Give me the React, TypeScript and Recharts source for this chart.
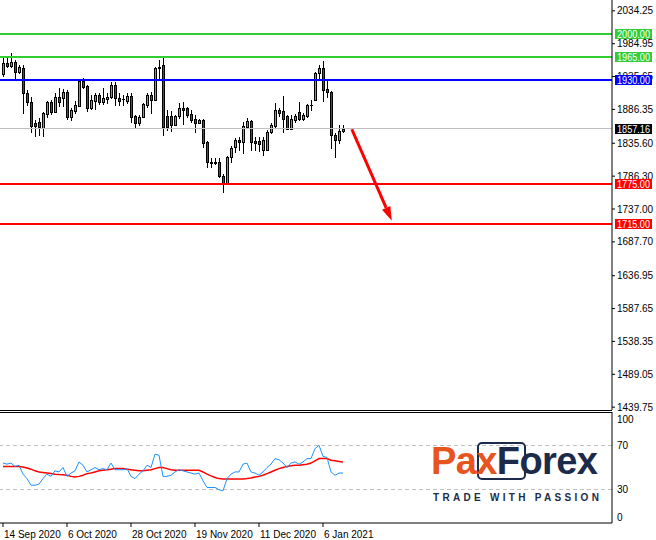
import React from "react";
import { ComposedChart, Bar, Line, XAxis, YAxis, ReferenceLine } from "recharts";

// daily candles, 14 Sep 2020 .. 13 Jan 2021
const opens = [
  1939.0, 1956.6, 1952.1, 1957.1, 1942.1, 1948.1, 1910.6, 1898.1, 1865.6, 1867.1,
  1858.1, 1879.6, 1897.1, 1883.1, 1904.6, 1903.1, 1912.1, 1875.6, 1884.6, 1892.1,
  1929.6, 1921.6, 1889.1, 1899.6, 1908.1, 1897.1, 1902.1, 1904.6, 1923.1, 1903.1,
  1902.1, 1899.6, 1906.6, 1876.6, 1865.6, 1875.6, 1893.1, 1908.1, 1900.6, 1950.6,
  1953.1, 1876.6, 1876.6, 1863.1, 1876.6, 1888.1, 1888.1, 1879.6, 1872.1, 1865.6,
  1870.6, 1837.1, 1807.1, 1806.6, 1808.1, 1786.6, 1775.6, 1814.6, 1829.6, 1840.6,
  1837.1, 1860.6, 1869.1, 1839.1, 1839.1, 1825.6, 1825.6, 1852.1, 1862.1, 1885.6,
  1884.6, 1876.6, 1857.1, 1870.6, 1882.1, 1872.1, 1877.1, 1893.1, 1900.6, 1940.6,
  1948.1, 1916.6, 1912.1, 1848.1, 1840.6, 1854.1,
];
const highs = [
  1963.1, 1963.1, 1971.6, 1960.6, 1953.1, 1953.1, 1915.6, 1905.6, 1870.6, 1873.1,
  1883.1, 1899.1, 1900.6, 1910.6, 1918.1, 1917.1, 1915.6, 1889.1, 1899.1, 1932.1,
  1933.1, 1923.1, 1908.1, 1910.6, 1911.6, 1919.1, 1910.6, 1928.1, 1928.1, 1910.6,
  1908.1, 1910.6, 1910.6, 1878.1, 1878.1, 1895.6, 1910.6, 1913.1, 1950.6, 1960.6,
  1963.1, 1885.6, 1884.1, 1878.1, 1895.6, 1898.1, 1890.6, 1885.6, 1878.1, 1871.6,
  1871.6, 1839.1, 1813.1, 1813.1, 1813.1, 1789.1, 1816.6, 1831.6, 1844.1, 1845.6,
  1868.1, 1873.1, 1870.6, 1845.6, 1845.6, 1845.6, 1855.6, 1865.6, 1895.6, 1889.1,
  1906.6, 1878.1, 1878.1, 1879.6, 1898.1, 1880.6, 1894.1, 1900.6, 1942.1, 1953.1,
  1959.1, 1931.6, 1914.1, 1850.6, 1863.1, 1863.1,
];
const lows = [
  1936.6, 1950.6, 1950.6, 1930.6, 1940.6, 1880.6, 1893.1, 1853.1, 1847.1, 1848.1,
  1847.1, 1874.6, 1879.6, 1883.1, 1892.1, 1892.1, 1872.1, 1870.6, 1880.6, 1892.1,
  1918.1, 1884.6, 1887.1, 1887.1, 1894.6, 1894.6, 1895.6, 1903.1, 1893.1, 1893.1,
  1893.1, 1895.6, 1867.1, 1859.6, 1863.1, 1874.6, 1890.6, 1880.6, 1900.6, 1933.1,
  1848.1, 1855.6, 1854.6, 1863.1, 1873.1, 1864.6, 1875.6, 1868.1, 1852.1, 1865.6,
  1829.6, 1799.6, 1800.1, 1804.6, 1785.6, 1763.1, 1775.6, 1807.1, 1823.1, 1825.6,
  1820.6, 1858.1, 1825.6, 1825.6, 1824.6, 1818.1, 1825.6, 1850.6, 1860.6, 1876.6,
  1853.1, 1856.6, 1856.6, 1868.1, 1870.6, 1870.6, 1875.6, 1885.6, 1900.6, 1933.1,
  1899.6, 1904.6, 1828.1, 1815.6, 1835.6, 1853.1,
];
const closes = [
  1955.6, 1952.1, 1957.1, 1942.1, 1949.6, 1910.6, 1898.1, 1862.1, 1862.1, 1860.6,
  1880.6, 1897.1, 1883.1, 1904.6, 1897.1, 1912.1, 1875.6, 1885.6, 1893.1, 1929.6,
  1920.6, 1889.1, 1900.6, 1908.1, 1897.1, 1903.1, 1904.6, 1923.1, 1903.1, 1899.6,
  1901.6, 1906.6, 1875.6, 1865.6, 1875.6, 1894.6, 1908.1, 1900.6, 1948.1, 1948.1,
  1860.6, 1860.6, 1863.1, 1876.6, 1888.1, 1885.6, 1878.1, 1870.6, 1865.6, 1870.6,
  1835.6, 1807.1, 1806.6, 1807.1, 1787.1, 1775.6, 1815.6, 1829.1, 1840.6, 1837.1,
  1861.6, 1869.1, 1838.1, 1835.6, 1835.1, 1840.6, 1853.1, 1863.1, 1885.6, 1880.6,
  1872.1, 1857.1, 1872.1, 1877.1, 1872.1, 1877.6, 1893.1, 1893.6, 1940.6, 1948.1,
  1915.6, 1912.1, 1848.1, 1840.6, 1854.6, 1857.16,
];

// oscillator (blue) and its moving average (red)
const osc = [
  54, 53, 54, 51, 52, 44, 40, 34, 34, 35,
  40, 44, 42, 47, 46, 50, 42, 45, 47, 55,
  52, 46, 48, 50, 48, 49, 48, 54, 48, 48,
  48, 49, 42, 40, 44, 47, 52, 50, 62, 61,
  42, 42, 43, 46, 48, 47, 46, 45, 44, 45,
  38, 32, 32, 32, 30, 29, 40, 44, 46, 46,
  53, 54, 46, 45, 43, 46, 50, 53, 58, 57,
  54, 50, 54, 55, 53, 55, 58, 58, 67, 70,
  60, 59, 46, 43, 45, 45,
];
const oscMa = [
  51, 51, 51, 51, 51, 50.5, 49.5, 48.5, 47, 46,
  45.5, 45, 44.5, 44, 43.6, 43.5, 43, 42, 41.5, 42,
  43, 44.5, 45, 46, 47, 47.5, 48, 48.5, 49, 49,
  49, 48.5, 48, 47.5, 47, 47, 47.5, 48, 49, 50,
  50, 49, 48, 47.5, 47.5, 47.5, 47.5, 47.5, 47.5, 47.5,
  46, 44, 42.5, 41, 40, 39.7, 39.7, 39.7, 39.7, 39.7,
  39.7, 40, 40.5, 41.5, 42, 43, 44.5, 46, 47.5, 49,
  50, 51, 51.5, 52, 52, 52.5, 53, 54, 56, 58,
  58, 58, 56.5, 56, 55.5, 55,
];

const dateTicks = [0, 16, 32, 48, 64, 80];
const dateLabels = ["14 Sep 2020", "6 Oct 2020", "28 Oct 2020", "19 Nov 2020", "11 Dec 2020", "6 Jan 2021"];
const priceTicks = [2034.25, 1984.95, 1935.65, 1886.35, 1835.6, 1786.3, 1737.0, 1687.7, 1636.95, 1587.65, 1538.35, 1489.05, 1439.75];
const oscTicks = [0, 30, 70, 100];

const levels = [
  { value: 2000, color: "#32cd32", width: 2, tag: "#32cd32" },
  { value: 1965, color: "#32cd32", width: 2, tag: "#32cd32" },
  { value: 1930, color: "#0000ff", width: 2, tag: "#0000ff" },
  { value: 1857.16, color: "#c0c0c0", width: 1, tag: "#000000" },
  { value: 1775, color: "#ff0000", width: 2, tag: "#ff0000" },
  { value: 1715, color: "#ff0000", width: 2, tag: "#ff0000" },
];
const arrowFrom = { x: 87.2, y: 1856.6 };
const arrowTo = { x: 97.2, y: 1719.5 };

const candles = opens.map((o, i) => ({
  i,
  range: [lows[i], highs[i]],
  o,
  h: highs[i],
  l: lows[i],
  c: closes[i],
  osc: osc[i],
  ma: oscMa[i],
}));

const xDomain = [-0.75, 152.25];
const priceDomain = [1435.5, 2050.5];
const font = "'Liberation Sans', Arial, sans-serif";

function Candle(props: any) {
  const { x, y, width, height, payload } = props;
  if (x == null || !payload) return null;
  const cx = Math.round(x + width / 2);
  const top = Math.min(y, y + height);
  const h = Math.abs(height);
  const span = payload.h - payload.l;
  const py = (v: number) => (span > 0 ? top + ((payload.h - v) / span) * h : top);
  const yo = py(payload.o);
  const yc = py(payload.c);
  const bt = Math.round(Math.min(yo, yc)) + 0.5;
  const bb = Math.round(Math.max(yo, yc)) + 0.5;
  const up = payload.c >= payload.o;
  return (
    <g shapeRendering="crispEdges">
      <line x1={cx + 0.5} x2={cx + 0.5} y1={Math.round(top)} y2={Math.round(top + h) + 1} stroke="#000" />
      {bb - bt < 1 ? (
        <line x1={cx - 1} x2={cx + 2} y1={bt} y2={bt} stroke="#000" />
      ) : (
        <rect x={cx - 0.5} y={bt} width={2} height={bb - bt} fill={up ? "#32cd32" : "#ff0000"} stroke="#000" />
      )}
    </g>
  );
}

function Tag(props: any) {
  const { viewBox, fill, text } = props;
  if (!viewBox) return null;
  const x = viewBox.x + viewBox.width + 3;
  const y = Math.round(viewBox.y);
  return (
    <g>
      <rect x={x} y={y - 5} width={37} height={10} fill={fill} />
      <text
        x={x + 2}
        y={y + 4}
        fontSize={10}
        fontFamily={font}
        fill="#fff"
        textLength={33}
        lengthAdjust="spacingAndGlyphs"
      >
        {text}
      </text>
    </g>
  );
}

function Arrow(props: any) {
  const { x1, y1, x2, y2 } = props;
  if (x1 == null) return null;
  const ang = Math.atan2(y2 - y1, x2 - x1);
  const len = 14;
  const w = 4.5;
  const bx = x2 - len * Math.cos(ang);
  const by = y2 - len * Math.sin(ang);
  const px = -Math.sin(ang) * w;
  const py = Math.cos(ang) * w;
  return (
    <g>
      <line x1={x1} y1={y1} x2={bx} y2={by} stroke="#ff0000" strokeWidth={3} />
      <polygon points={`${x2},${y2} ${bx + px},${by + py} ${bx - px},${by - py}`} fill="#ff0000" />
    </g>
  );
}

function OscTick(props: any) {
  const { x, y, payload } = props;
  const dy = payload.value === 100 ? 7 : payload.value === 0 ? -6 : 0;
  return (
    <text x={x} y={y + dy + 3.5} fontSize={10} fontFamily={font} fill="#000" textAnchor="start">
      {payload.value}
    </text>
  );
}

function DateTick(props: any) {
  const { x, y, payload } = props;
  const idx = dateTicks.indexOf(payload.value);
  return (
    <text x={x + 1} y={y + 9} fontSize={10} fontFamily={font} fill="#000" textAnchor="start">
      {dateLabels[idx]}
    </text>
  );
}

export default function App() {
  return (
    <div style={{ position: "absolute", left: 0, top: 0, width: 656, height: 540, background: "#fff", fontFamily: font }}>
      <div style={{ position: "absolute", left: 0, top: 0 }}>
        <ComposedChart width={656} height={412} data={candles} margin={{ top: 0, right: 0, bottom: 2, left: 0 }}>
          <XAxis dataKey="i" type="number" domain={xDomain} allowDataOverflow hide />
          <YAxis
            orientation="right"
            width={44}
            type="number"
            domain={priceDomain}
            allowDataOverflow
            ticks={priceTicks}
            interval={0}
            tickFormatter={(v: number) => v.toFixed(2)}
            tick={{ fontSize: 10, fill: "#000", fontFamily: font }}
            tickSize={3}
            tickMargin={2}
            stroke="#000"
          />
          <ReferenceLine y={priceDomain[0]} stroke="#000" ifOverflow="visible" shapeRendering="crispEdges" />
          {levels.map((lv) => (
            <ReferenceLine
              key={lv.value}
              y={lv.value}
              stroke={lv.color}
              strokeWidth={lv.width}
              ifOverflow="visible"
              shapeRendering="crispEdges"
            />
          ))}
          <Bar dataKey="range" barSize={3} shape={<Candle />} isAnimationActive={false} />
          <ReferenceLine segment={[arrowFrom, arrowTo]} ifOverflow="visible" shape={<Arrow />} />
        </ComposedChart>
      </div>
      {/* price tags drawn on top of the axis labels */}
      <div style={{ position: "absolute", left: 0, top: 0, pointerEvents: "none" }}>
        <ComposedChart width={656} height={412} data={candles} margin={{ top: 0, right: 0, bottom: 2, left: 0 }}>
          <XAxis dataKey="i" type="number" domain={xDomain} allowDataOverflow hide />
          <YAxis
            orientation="right"
            width={44}
            type="number"
            domain={priceDomain}
            allowDataOverflow
            tick={false}
            tickLine={false}
            axisLine={false}
          />
          {levels.map((lv) => (
            <ReferenceLine
              key={lv.value}
              y={lv.value}
              stroke="none"
              ifOverflow="visible"
              label={<Tag fill={lv.tag} text={lv.value.toFixed(2)} />}
            />
          ))}
        </ComposedChart>
      </div>
      <div style={{ position: "absolute", left: 0, top: 410 }}>
        <ComposedChart width={656} height={130} data={candles} margin={{ top: 2, right: 0, bottom: 0, left: 0 }}>
          <XAxis
            dataKey="i"
            type="number"
            domain={xDomain}
            allowDataOverflow
            ticks={dateTicks}
            interval={0}
            height={17}
            tick={<DateTick />}
            tickSize={4}
            stroke="#000"
          />
          <YAxis
            orientation="right"
            width={44}
            type="number"
            domain={[0, 100]}
            allowDataOverflow
            ticks={oscTicks}
            interval={0}
            tick={<OscTick />}
            tickLine={false}
            tickSize={3}
            tickMargin={2}
            stroke="#000"
          />
          <ReferenceLine y={100} stroke="#000" ifOverflow="visible" shapeRendering="crispEdges" />
          <ReferenceLine y={70} stroke="#c0c0c0" strokeDasharray="4 3" shapeRendering="crispEdges" />
          <ReferenceLine y={30} stroke="#c0c0c0" strokeDasharray="4 3" shapeRendering="crispEdges" />
          <Line dataKey="ma" stroke="#ff0000" strokeWidth={1.5} dot={false} isAnimationActive={false} />
          <Line dataKey="osc" stroke="#1e90ff" strokeWidth={1} dot={false} isAnimationActive={false} />
        </ComposedChart>
      </div>
      <div style={{ position: "absolute", left: 431, top: 441, width: 172, pointerEvents: "none" }}>
        <div
          style={{
            position: "absolute",
            left: 46,
            top: 1,
            width: 45,
            height: 34,
            border: "2px solid #1c2b4a",
            borderRadius: 5,
          }}
        />
        <div style={{ position: "relative", fontSize: 38, fontWeight: 700, lineHeight: "40px", letterSpacing: -0.6, whiteSpace: "nowrap" }}>
          <span style={{ color: "#e8541e" }}>Pax</span>
          <span style={{ color: "#1c2b4a" }}>Forex</span>
        </div>
        <div style={{ fontSize: 10, fontWeight: 700, color: "#1c2b4a", letterSpacing: 3.3, whiteSpace: "nowrap", marginTop: 11, marginLeft: 2 }}>
          TRADE WITH PASSION
        </div>
      </div>
    </div>
  );
}
